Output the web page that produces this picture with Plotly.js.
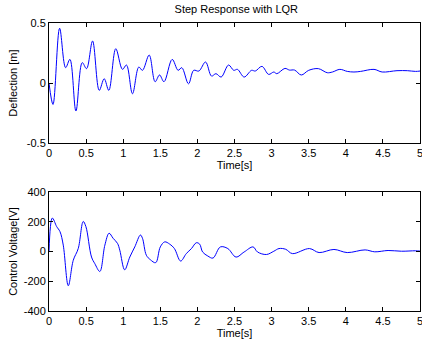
<!DOCTYPE html>
<html>
<head>
<meta charset="utf-8">
<script src="https://cdn.plot.ly/plotly-3.0.1.min.js"></script>
<style>html,body{margin:0;padding:0;background:#fff;}#chart{width:422px;height:346px;}</style>
</head>
<body>
<div id="chart"></div>
<script>
// Deflection response (top)
const timeDefl = [0, 0.054, 0.143, 0.224, 0.282, 0.363, 0.448, 0.506, 0.587, 0.677, 0.744, 0.806, 0.90, 0.99, 1.044, 1.125, 1.21, 1.26, 1.35, 1.43, 1.49, 1.55, 1.66, 1.74, 1.79, 1.88, 1.95, 2.02, 2.11, 2.19, 2.25, 2.32, 2.42, 2.49, 2.54, 2.63, 2.73, 2.78, 2.87, 2.96, 3.03, 3.07, 3.18, 3.24, 3.31, 3.40, 3.50, 3.63, 3.75, 3.82, 3.92, 4.02, 4.11, 4.20, 4.38, 4.49, 4.69, 4.83, 4.94, 5.0];
const deflection = [0, -0.178, 0.456, 0.128, 0.197, -0.233, 0.17, 0.12, 0.35, -0.061, 0.036, -0.061, 0.286, 0.114, 0.15, -0.089, 0.133, 0.106, 0.233, 0.011, 0.067, 0.011, 0.197, 0.106, 0.128, -0.006, 0.106, 0.1, 0.175, 0.058, 0.078, 0.05, 0.15, 0.106, 0.114, 0.05, 0.106, 0.1, 0.139, 0.072, 0.092, 0.078, 0.122, 0.108, 0.108, 0.067, 0.106, 0.12, 0.086, 0.092, 0.114, 0.097, 0.092, 0.097, 0.114, 0.092, 0.103, 0.103, 0.097, 0.1];

// Control voltage (bottom)
const timeVolt = [0, 0.045, 0.103, 0.148, 0.192, 0.26, 0.327, 0.394, 0.461, 0.497, 0.573, 0.618, 0.685, 0.753, 0.81, 0.864, 0.923, 0.954, 1.02, 1.089, 1.156, 1.232, 1.26, 1.312, 1.366, 1.438, 1.5, 1.56, 1.626, 1.69, 1.774, 1.85, 1.92, 1.985, 2.03, 2.07, 2.14, 2.21, 2.31, 2.41, 2.52, 2.63, 2.75, 2.81, 2.93, 3.03, 3.10, 3.19, 3.28, 3.51, 3.64, 3.84, 4.02, 4.26, 4.39, 4.57, 4.75, 4.94, 5.0];
const voltage = [0, 225, 168, 134, 43, -230, -59, 20, 202, 168, -37, -82, -134, 43, 123, 89, 55, 9, -123, -37, 31, 111, 89, -25, -55, -75, 31, 65, 50, 20, -64, -14, 20, 59, 50, -3, -30, -44, 31, 20, -37, -3, 31, -3, -20, 2, 20, 15, -14, 20, -7, 14, -7, 11, -2, 7, 2, 5, 3];

const xTicks = [0, 0.5, 1, 1.5, 2, 2.5, 3, 3.5, 4, 4.5, 5];
const xTickText = ['0', '0.5', '1', '1.5', '2', '2.5', '3', '3.5', '4', '4.5', '5'];
const deflTicks = [-0.5, 0, 0.5];
const deflTickText = ['-0.5', '0', '0.5'];
const voltTicks = [-400, -200, 0, 200, 400];
const voltTickText = ['-400', '-200', '0', '200', '400'];

const font = {family: 'Liberation Sans, Arial, sans-serif', size: 11, color: '#000'};

const axisBase = {
  showline: true, linecolor: '#000', linewidth: 1, mirror: 'ticks',
  ticks: 'inside', ticklen: 4, tickcolor: '#000', tickwidth: 1,
  showgrid: false, zeroline: false, tickfont: font, ticklabeloverflow: 'allow'
};

const traces = [
  {x: timeDefl, y: deflection, type: 'scatter', mode: 'lines',
   line: {color: '#0000ff', width: 1, shape: 'spline', smoothing: 1}, xaxis: 'x', yaxis: 'y'},
  {x: timeVolt, y: voltage, type: 'scatter', mode: 'lines',
   line: {color: '#0000ff', width: 1, shape: 'spline', smoothing: 1}, xaxis: 'x2', yaxis: 'y2'}
];

const layout = {
  width: 422, height: 346,
  margin: {l: 49, r: 2, t: 23, b: 35},
  paper_bgcolor: '#fff', plot_bgcolor: '#fff',
  showlegend: false,
  font: font,
  title: {text: 'Step Response with LQR', font: font, x: 0.56, xanchor: 'center', y: 0.975, yanchor: 'middle'},
  xaxis: Object.assign({}, axisBase, {domain: [0, 1], anchor: 'y', range: [0, 5], tickvals: xTicks, ticktext: xTickText,
    title: {text: 'Time[s]', font: font, standoff: 2}}),
  yaxis: Object.assign({}, axisBase, {domain: [0.583, 1], anchor: 'x', range: [-0.5, 0.5], tickvals: deflTicks, ticktext: deflTickText,
    title: {text: 'Deflection [m]', font: font}}),
  xaxis2: Object.assign({}, axisBase, {domain: [0, 1], anchor: 'y2', range: [0, 5], tickvals: xTicks, ticktext: xTickText,
    title: {text: 'Time[s]', font: font, standoff: 2}}),
  yaxis2: Object.assign({}, axisBase, {domain: [0, 0.413], anchor: 'x2', range: [-400, 400], tickvals: voltTicks, ticktext: voltTickText,
    title: {text: 'Control Voltage[V]', font: font}})
};

Plotly.newPlot('chart', traces, layout, {staticPlot: true, displayModeBar: false});
</script>
</body>
</html>
